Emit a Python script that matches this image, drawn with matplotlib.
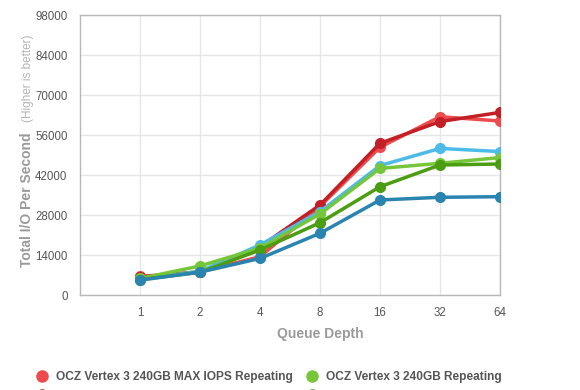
import matplotlib
matplotlib.use("Agg")
import matplotlib.pyplot as plt
from matplotlib.lines import Line2D

plt.rcParams["font.family"] = ["Liberation Sans", "DejaVu Sans"]

# --- data ---
queue_depth = ["1", "2", "4", "8", "16", "32", "64"]
y_ticks = [0, 14000, 28000, 42000, 56000, 70000, 84000, 98000]

max_iops_repeating = [6500, 8100, 13400, 31000, 51700, 62400, 60900]
max_iops_random = [6300, 8000, 16900, 31500, 53100, 60700, 63900]
vertex3_repeating = [5800, 10150, 16450, 28350, 44300, 46100, 48100]
vertex3_random = [5400, 7950, 15750, 25300, 37900, 45500, 45850]
other_repeating = [5500, 8300, 17500, 29200, 45300, 51300, 50200]
other_random = [5200, 8000, 12800, 21600, 33250, 34200, 34400]

series = [
    ("OCZ Vertex 3 240GB MAX IOPS Repeating", max_iops_repeating, "#ee4b4e"),
    ("OCZ Vertex 3 240GB MAX IOPS Random", max_iops_random, "#c21f26"),
    ("Intel SSD 510 250GB Repeating", other_repeating, "#4cbbe9"),
    ("OCZ Vertex 3 240GB Repeating", vertex3_repeating, "#76c63c"),
    ("OCZ Vertex 3 240GB Random", vertex3_random, "#4b9d12"),
    ("Intel SSD 510 250GB Random", other_random, "#2a84b0"),
]
draw_order = [5, 4, 3, 2, 0, 1]

fig = plt.figure(figsize=(5.8, 3.9), dpi=100)
ax = fig.add_axes([80 / 580, 1 - 295 / 390, 420 / 580, 280 / 390])

x = list(range(1, len(queue_depth) + 1))
for i in draw_order:
    name, vals, col = series[i]
    ax.plot(x, vals, "-o", color=col, lw=2.5, ms=7, solid_capstyle="round",
            zorder=3 + i)

ax.set_xlim(0, 7)
ax.set_ylim(0, 98000)
ax.set_xticks(x)
ax.set_xticklabels(queue_depth)
ax.set_yticks(y_ticks)
ax.set_yticklabels([str(v) for v in y_ticks])
ax.grid(True, color="#e6e6e6", lw=1)
ax.set_axisbelow(True)
ax.tick_params(length=0, labelsize=8.3, colors="#555555")
ax.tick_params(axis="y", pad=9)
ax.tick_params(axis="x", pad=9)
for sp in ax.spines.values():
    sp.set_color("#b8b8b8")
    sp.set_linewidth(1)

ax.set_xlabel("Queue Depth", fontsize=10, fontweight="bold", color="#9a9a9a")
ax.xaxis.set_label_coords(4 / 7, -0.115)

fig.text(27.5 / 580, 1 - 200 / 390, "Total I/O Per Second", rotation=90,
         ha="center", va="center", fontsize=10, fontweight="bold", color="#9a9a9a")
fig.text(28 / 580, 1 - 78 / 390, "(Higher is better)", rotation=90,
         ha="center", va="center", fontsize=8.5, color="#b5b5b5")

handles = [Line2D([], [], ls="none", marker="o", ms=8, color=c) for _, _, c in series]
labels = [n for n, _, _ in series]
leg = fig.legend(handles, labels, ncol=2, loc="upper left",
                 bbox_to_anchor=(25 / 580, 1 - 360 / 390), frameon=False,
                 handlelength=1.0, handletextpad=0.7, columnspacing=1.1,
                 labelspacing=0.6, prop={"size": 8.6, "weight": "bold"})
for t in leg.get_texts():
    t.set_color("#555555")

fig.savefig("out.png", dpi=100)
